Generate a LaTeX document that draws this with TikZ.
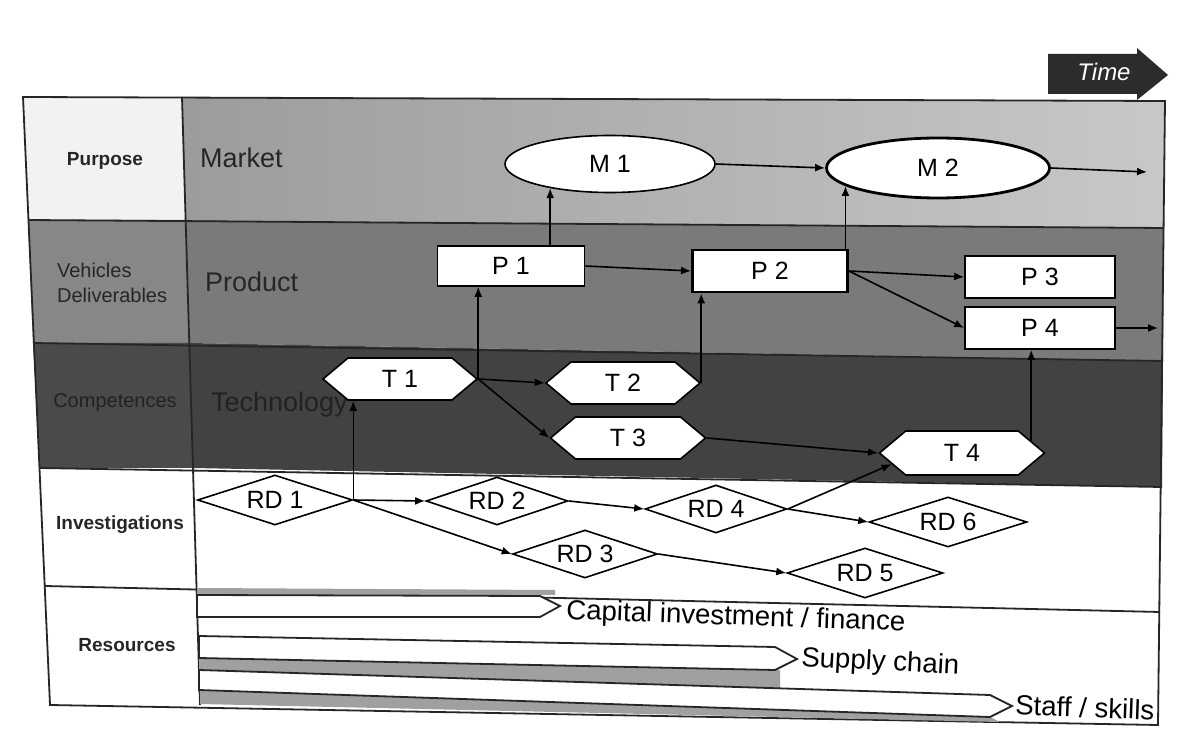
\documentclass[tikz,border=0pt]{standalone}
\usepackage{fontspec}
\setmainfont{Liberation Sans}
\usetikzlibrary{shapes.geometric,shapes.symbols,arrows.meta}

\definecolor{mktL}{HTML}{9C9C9C}
\definecolor{mktR}{HTML}{C8C8C8}
\definecolor{purposeCell}{HTML}{F2F2F2}
\definecolor{vehRow}{HTML}{7A7A7A}
\definecolor{vehCell}{HTML}{878787}
\definecolor{compRow}{HTML}{424242}
\definecolor{compCell}{HTML}{4A4A4A}
\definecolor{compText}{HTML}{222222}
\definecolor{bandGray}{HTML}{A0A0A0}
\definecolor{timeFill}{HTML}{2C2C2C}

\begin{document}
\begin{tikzpicture}[x=0.5pt,y=-0.5pt,
  lbl/.style={font=\fontsize{12.5}{15}\selectfont},
  ellip/.style={ellipse,draw,fill=white,line width=0.8pt,inner sep=0pt,lbl},
  pbox/.style={rectangle,draw,fill=white,line width=0.8pt,inner sep=0pt,lbl},
  hexa/.style={signal,signal to=west and east,signal pointer angle=80,draw,fill=white,
               line width=0.8pt,inner sep=0pt,lbl},
  rdbox/.style={diamond,aspect=3,draw,fill=white,line width=0.8pt,inner sep=0pt,lbl},
  arr/.style={-{Latex[length=5pt,width=4pt]},line width=0.8pt},
  hdr/.style={font=\fontsize{10}{12.5}\selectfont,text=black!85},
  hdrb/.style={font=\bfseries\fontsize{9.5}{11}\selectfont,text=black!85},
  rowname/.style={font=\fontsize{13.5}{16}\selectfont,text=black!85},
  res/.style={font=\fontsize{13.8}{16}\selectfont,inner sep=0pt},
  gridline/.style={line width=0.9pt,draw=black!85},
  ribbon/.style={line width=0.9pt,draw=black!85,fill=white}]

\useasboundingbox[fill=white] (0,0) rectangle (1184,732);

% ---- row backgrounds ----
\shade[left color=mktL,right color=mktR] (182,97) -- (1165,101) -- (1164,228) -- (185.6,220) -- cycle;
\fill[purposeCell] (23,97) -- (182,97) -- (185.6,220) -- (28,220) -- cycle;
\fill[vehRow] (185.6,220) -- (1164,228) -- (1163,361) -- (189.3,343) -- cycle;
\fill[vehCell] (28,220) -- (185.6,220) -- (189.3,343) -- (33,343) -- cycle;
\fill[compRow] (189.3,343) -- (1163,361) -- (1162,487) -- (193,468) -- cycle;
\fill[compCell] (33,343) -- (189.3,343) -- (193,468) -- (40,468) -- cycle;

% ---- grid ----
\draw[gridline] (23,97) -- (1165,101) -- (1158,725) -- (50,705) -- cycle;
\draw[gridline] (28,220) -- (1164,228);
\draw[gridline] (33,343) -- (1163,361);
\draw[gridline] (40,468) -- (1162,487);
\draw[gridline] (45,586) -- (1160,612);
\draw[gridline] (182,97) -- (200,705);

% ---- resource ribbons ----
\fill[bandGray] (197,588) -- (555,590) -- (555,595) -- (197,595) -- cycle;
\fill[bandGray] (199,658) -- (780,670) -- (780,688) -- (199,670) -- cycle;
\fill[bandGray] (200,690) -- (990,717) -- (1000,722) -- (200,704) -- cycle;
\draw[ribbon] (197,595) -- (540,596) -- (560,606) -- (540,617) -- (197,617) -- cycle;
\draw[ribbon] (199,636) -- (775,647) -- (797,659) -- (775,670) -- (199,658) -- cycle;
\draw[ribbon] (199,670) -- (990,695) -- (1012,706) -- (990,717) -- (199,690) -- cycle;
\node[res,anchor=west,rotate=-2] (capital) at (566,612) {Capital investment / finance};
\node[res,anchor=west,rotate=-3] (supply) at (801,659) {Supply chain};
\node[res,anchor=west,rotate=-2] (staff) at (1015,705) {Staff / skills};

% ---- time arrow ----
\fill[timeFill] (1048,54) -- (1137,54) -- (1137,48) -- (1168,75) -- (1137,100) -- (1137,94)
  -- (1048,94) -- cycle;
\node[text=white,font=\itshape\fontsize{12}{14}\selectfont] (time) at (1104,72) {Time};

% ---- row headers ----
\node[hdrb] (purpose) at (105,161) {Purpose};
\node[hdr,anchor=west,align=left] (vehicles) at (50,283) {Vehicles\\Deliverables};
\node[hdr,text=compText] (competences) at (115,403) {Competences};
\node[hdrb] (investigations) at (120,525) {Investigations};
\node[hdrb] (resources) at (127,645) {Resources};
\node[rowname,anchor=west] (market) at (193,158) {Market};
\node[rowname,anchor=west] (product) at (198,282) {Product};
\node[rowname,anchor=west,text=compText] (technology) at (204,405) {Technology};

% ---- market ----
\node[ellip,minimum width=105pt,minimum height=28.5pt] (M1) at (610,164) {M 1};
\node[ellip,line width=1.4pt,minimum width=111.5pt,minimum height=30pt] (M2) at (938,168) {M 2};

% ---- products ----
\node[pbox,minimum width=73.5pt,minimum height=20pt] (P1) at (511,266) {P 1};
\node[pbox,line width=1.4pt,minimum width=77.5pt,minimum height=21pt] (P2) at (770,271) {P 2};
\node[pbox,minimum width=75pt,minimum height=21pt] (P3) at (1040,277) {P 3};
\node[pbox,minimum width=75pt,minimum height=21pt] (P4) at (1040,328) {P 4};

% ---- technologies ----
\node[hexa,minimum width=77pt,minimum height=21pt] (T1) at (400,379) {T 1};
\node[hexa,minimum width=77pt,minimum height=21pt] (T2) at (623,383) {T 2};
\node[hexa,minimum width=77.5pt,minimum height=21pt] (T3) at (628,438) {T 3};
\node[hexa,minimum width=82.5pt,minimum height=22pt] (T4) at (962,453) {T 4};

% ---- investigations ----
\node[rdbox,minimum width=77.5pt,minimum height=25pt] (RD1) at (275,500) {RD 1};
\node[rdbox,minimum width=71pt,minimum height=24pt] (RD2) at (497,501) {RD 2};
\node[rdbox,minimum width=72.5pt,minimum height=24pt] (RD3) at (585,554) {RD 3};
\node[rdbox,minimum width=71pt,minimum height=24pt] (RD4) at (716,509) {RD 4};
\node[rdbox,minimum width=78pt,minimum height=25pt] (RD5) at (865,573) {RD 5};
\node[rdbox,minimum width=79pt,minimum height=25pt] (RD6) at (948,522) {RD 6};

% ---- connectors ----
\coordinate (mEnd) at (1147,172);
\coordinate (pEnd) at (1158,328);
\draw[arr] (M1.east) -- (M2.west);
\draw[arr] (M2.east) -- (mEnd);
\draw[arr] (P1.north -| M1.202) -- (M1.202);
\draw[arr] (P2.north -| M2.191) -- (M2.191);
\draw[arr] (P1.east) -- (P2.west);
\draw[arr] (P2.east) -- (P3.west);
\draw[arr] (P2.east) -- (P4.west);
\draw[arr] (P4.east) -- (pEnd);
\draw[arr] (T1.east) -- (T1.east |- P1.south);
\draw[arr] (T2.east) -- (T2.east |- P2.south);
\draw[arr] (T4.10) -- (T4.10 |- P4.south);
\draw[arr] (T1.east) -- (T2.west);
\draw[arr] (T1.east) -- (T3.west);
\draw[arr] (T3.east) -- (T4.west);
\draw[arr] (RD1.east) -- (RD1.east |- T1.south);
\draw[arr] (RD1.east) -- (RD2.west);
\draw[arr] (RD1.east) -- (RD3.west);
\draw[arr] (RD2.east) -- (RD4.west);
\draw[arr] (RD3.east) -- (RD5.west);
\draw[arr] (RD4.east) -- (RD6.west);
\draw[arr] (RD4.east) -- (T4.189);
\end{tikzpicture}
\end{document}
